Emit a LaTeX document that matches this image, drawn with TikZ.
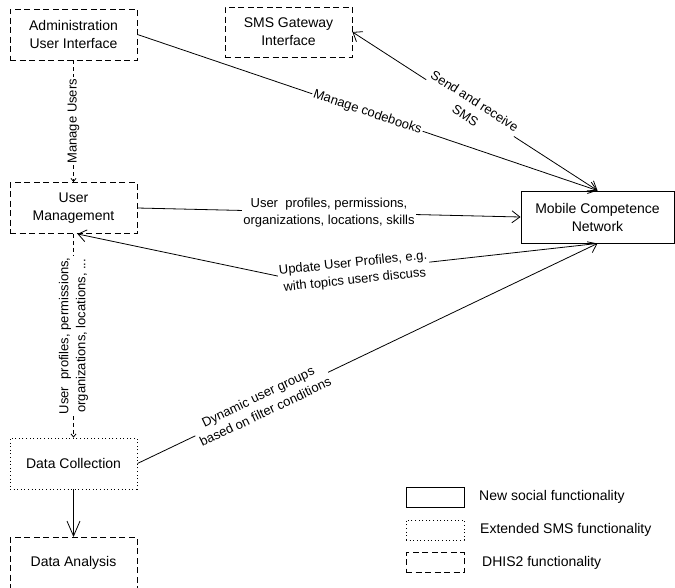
\documentclass[tikz,border=0pt]{standalone}
\usepackage{fontspec}
\setmainfont{Liberation Sans}
\usetikzlibrary{arrows.meta,calc}
\begin{document}
\begin{tikzpicture}[x=1pt,y=-1pt,
  box/.style={draw, line width=0.9pt, minimum width=127pt, minimum height=51pt, inner sep=0pt, align=center, font=\fontsize{14}{18}\selectfont},
  dashbox/.style={box, dash pattern=on 6pt off 3.5pt},
  dotbox/.style={box, dash pattern=on 1pt off 2.6pt},
  legbox/.style={minimum width=58pt, minimum height=20pt},
  conn/.style={line width=0.8pt},
  tip/.style={-{Straight Barb[length=8pt,width=12pt]}},
  bitip/.style={{Straight Barb[length=8pt,width=12pt]}-{Straight Barb[length=8pt,width=12pt]}},
  smalltip/.style={-{Straight Barb[length=3pt,width=5pt]}},
  bigtip/.style={-{Straight Barb[length=15pt,width=13pt]}},
  vline/.style={conn, dash pattern=on 4pt off 3pt},
  lbl/.style={font=\fontsize{13}{17}\selectfont, align=center, fill=white, inner sep=1.5pt},
  legtext/.style={font=\fontsize{14}{18}\selectfont, anchor=west, inner sep=0pt}
]
\useasboundingbox (0,0) rectangle (675,587);
\clip (0,0) rectangle (675,587);

% boxes
\node[dashbox] (admin) at (73.5,34.5) {Administration\\User Interface};
\node[dashbox, minimum height=50pt] (sms) at (288.5,32) {SMS Gateway\\Interface};
\node[dashbox] (um) at (73.5,208) {User\\Management};
\node[dotbox] (dc) at (73.5,463.5) {Data Collection};
\node[dashbox] (da) at (73.5,563) {Data Analysis};
\node[box, minimum width=153pt, minimum height=52pt] (mcn) at (597.5,217) {Mobile Competence\\Network};

% connectors
\draw[conn,tip] (admin.east) -- node[lbl,sloped,pos=0.5] {Manage codebooks} (mcn.north);
\draw[conn,bitip] (sms.east) -- node[lbl,sloped,pos=0.48] {Send and receive\\SMS} (mcn.north);
\draw[conn,tip] (um.east) -- node[lbl,pos=0.5] {User\ \ profiles, permissions,\\organizations, locations, skills} (mcn.west);
\coordinate (wp) at (287,278);
\draw[conn,tip] (mcn.south) -- (wp) -- ([xshift=4pt]um.south);
\node[lbl, rotate=6] (upl) at (354,272) {Update User Profiles, e.g.\\with topics users discuss};
\draw[conn,tip] (dc.east) -- node[lbl,sloped,pos=0.27] {Dynamic user groups\\based on filter conditions} (mcn.south);

\draw[vline,smalltip] (admin.south) -- node[lbl,rotate=90] {Manage Users} (um.north);
\draw[vline,smalltip] (um.south) -- node[lbl,rotate=90] {User\ \ profiles, permissions,\\organizations, locations, ...} (dc.north);
\draw[conn,bigtip] (dc.south) -- (da.north);

% legend
\node[box, legbox] (lg1) at (435,497) {};
\node[dotbox, legbox] (lg2) at (435,530) {};
\node[dashbox, legbox] (lg3) at (435,562.5) {};
\node[legtext] (lt1) at (479,497) {New social functionality};
\node[legtext] (lt2) at (480,530) {Extended SMS functionality};
\node[legtext] (lt3) at (482,562.5) {DHIS2 functionality};
\end{tikzpicture}
\end{document}
